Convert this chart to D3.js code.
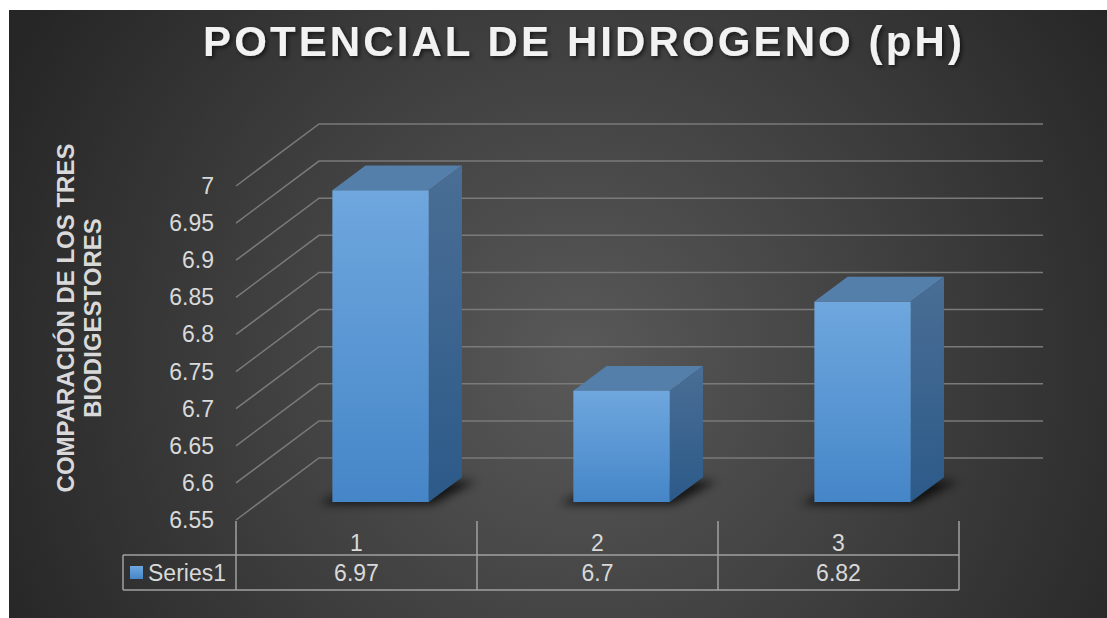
<!DOCTYPE html>
<html>
<head>
<meta charset="utf-8">
<script src="https://cdn.jsdelivr.net/npm/d3@7"></script>
<style>
  body { margin: 0; background: #fff; }
  text { font-family: "Liberation Sans", Arial, sans-serif; }
</style>
</head>
<body>
<div id="chart"></div>
<script>
// Data
const categories = ["1", "2", "3"];
const values = [6.97, 6.7, 6.82];
const yTicks = [6.55, 6.6, 6.65, 6.7, 6.75, 6.8, 6.85, 6.9, 6.95, 7];
const seriesName = "Series1";
const titleText = "POTENCIAL DE HIDROGENO (pH)";
const yTitleLines = ["COMPARACIÓN DE LOS TRES", "BIODIGESTORES"];

const W = 1107, H = 618;
// 3D depth of the plot box and of the bars
const DX = 83, DY = -62;
const barFront = 0.29, barDepth = 0.4, barWidthRatio = 0.4;

const svg = d3.select("#chart").append("svg")
  .attr("width", W)
  .attr("height", H);

const defs = svg.append("defs");

const bg = defs.append("radialGradient")
  .attr("id", "bg")
  .attr("gradientUnits", "userSpaceOnUse")
  .attr("cx", 580).attr("cy", 360).attr("r", 640);
bg.append("stop").attr("offset", "0%").attr("stop-color", "#595959");
bg.append("stop").attr("offset", "100%").attr("stop-color", "#262626");

const frontGrad = defs.append("linearGradient")
  .attr("id", "front").attr("x1", 0).attr("y1", 0).attr("x2", 0).attr("y2", 1);
frontGrad.append("stop").attr("offset", "0%").attr("stop-color", "#6fa7de");
frontGrad.append("stop").attr("offset", "100%").attr("stop-color", "#4586c8");

const sideGrad = defs.append("linearGradient")
  .attr("id", "side").attr("x1", 0).attr("y1", 0).attr("x2", 0).attr("y2", 1);
sideGrad.append("stop").attr("offset", "0%").attr("stop-color", "#4a6e95");
sideGrad.append("stop").attr("offset", "100%").attr("stop-color", "#2c5a89");

defs.append("filter").attr("id", "blur")
  .attr("x", "-50%").attr("y", "-50%").attr("width", "200%").attr("height", "200%")
  .append("feGaussianBlur").attr("stdDeviation", 5);

const ts = defs.append("filter").attr("id", "tshadow");
ts.append("feDropShadow")
  .attr("dx", 2).attr("dy", 2).attr("stdDeviation", 2)
  .attr("flood-color", "#000").attr("flood-opacity", 0.6);

// Background
svg.append("rect")
  .attr("x", 9).attr("y", 10)
  .attr("width", W - 9).attr("height", H - 10)
  .attr("fill", "url(#bg)");

// Scales
const x = d3.scaleBand().domain(categories).range([236, 959]);
const y = d3.scaleLinear().domain([6.55, 7]).range([520, 186]);
const fmt = d3.format("~g");

// Gridlines: left wall diagonal + back wall horizontal
svg.append("g").selectAll("polyline")
  .data(yTicks)
  .join("polyline")
  .attr("points", t => {
    const x0 = x.range()[0], x1 = x.range()[1];
    return [[x0, y(t)], [x0 + DX, y(t) + DY], [x1 + DX + 1, y(t) + DY]].join(" ");
  })
  .attr("fill", "none")
  .attr("stroke", "#7a7a7a")
  .attr("stroke-width", 1.5);

// Y tick labels
svg.append("g").selectAll("text")
  .data(yTicks)
  .join("text")
  .attr("x", 214)
  .attr("y", d => y(d))
  .attr("text-anchor", "end")
  .attr("dominant-baseline", "central")
  .attr("font-size", 23)
  .attr("fill", "#d9d9d9")
  .text(d => fmt(d));

// Y axis title
yTitleLines.forEach((line, i) => {
  svg.append("text")
    .attr("transform", `translate(${65 + i * 27},318) rotate(-90)`)
    .attr("text-anchor", "middle")
    .attr("dominant-baseline", "central")
    .attr("font-size", 24)
    .attr("font-weight", "bold")
    .attr("fill", "#d9d9d9")
    .text(line);
});

// Bars
const bw = x.bandwidth() * barWidthRatio;
const bars = categories.map((c, i) => {
  const x0 = x(c) + (x.bandwidth() - bw) / 2 + barFront * DX;
  const yTop = y(values[i]) + barFront * DY;
  const yBot = y(6.55) + barFront * DY;
  return { x0, x1: x0 + bw, yTop, yBot, ddx: barDepth * DX, ddy: barDepth * DY };
});

// Shadows
svg.append("g").selectAll("polygon")
  .data(bars)
  .join("polygon")
  .attr("points", b => [
    [b.x0 - 14, b.yBot + 2], [b.x1 + 4, b.yBot + 2],
    [b.x1 + b.ddx + 14, b.yBot + b.ddy + 4], [b.x0 + b.ddx, b.yBot + b.ddy + 4]
  ].join(" "))
  .attr("fill", "#000")
  .attr("opacity", 0.75)
  .attr("filter", "url(#blur)");

const barG = svg.append("g").selectAll("g")
  .data(bars)
  .join("g");

barG.append("polygon")
  .attr("points", b => [
    [b.x0, b.yTop], [b.x1, b.yTop],
    [b.x1 + b.ddx, b.yTop + b.ddy], [b.x0 + b.ddx, b.yTop + b.ddy]
  ].join(" "))
  .attr("fill", "#557fab");

barG.append("polygon")
  .attr("points", b => [
    [b.x1, b.yTop], [b.x1 + b.ddx, b.yTop + b.ddy],
    [b.x1 + b.ddx, b.yBot + b.ddy], [b.x1, b.yBot]
  ].join(" "))
  .attr("fill", "url(#side)");

barG.append("rect")
  .attr("x", b => b.x0)
  .attr("y", b => b.yTop)
  .attr("width", bw)
  .attr("height", b => b.yBot - b.yTop)
  .attr("fill", "url(#front)");

// Data table
const tableTop = 555, tableBot = 590, tickTop = 521, legendLeft = 123;
const lineColor = "#a0a0a0";
const tbl = svg.append("g")
  .attr("stroke", lineColor)
  .attr("stroke-width", 1.5);

const seps = categories.map(c => x(c)).concat([x.range()[1]]);
tbl.selectAll("line.v")
  .data(seps)
  .join("line")
  .attr("class", "v")
  .attr("x1", d => d).attr("x2", d => d)
  .attr("y1", tickTop).attr("y2", tableBot);

tbl.append("line")
  .attr("x1", legendLeft).attr("x2", legendLeft)
  .attr("y1", tableTop).attr("y2", tableBot);

[tableTop, tableBot].forEach(yy => {
  tbl.append("line")
    .attr("x1", legendLeft).attr("x2", x.range()[1])
    .attr("y1", yy).attr("y2", yy);
});

svg.append("g").selectAll("text")
  .data(categories)
  .join("text")
  .attr("x", d => x(d) + x.bandwidth() / 2)
  .attr("y", 543)
  .attr("text-anchor", "middle")
  .attr("dominant-baseline", "central")
  .attr("font-size", 23)
  .attr("fill", "#d9d9d9")
  .text(d => d);

svg.append("g").selectAll("text")
  .data(values)
  .join("text")
  .attr("x", (d, i) => x(categories[i]) + x.bandwidth() / 2)
  .attr("y", 573)
  .attr("text-anchor", "middle")
  .attr("dominant-baseline", "central")
  .attr("font-size", 23)
  .attr("fill", "#d9d9d9")
  .text(d => fmt(d));

// Legend key inside table
svg.append("rect")
  .attr("x", 130).attr("y", 566)
  .attr("width", 13).attr("height", 13)
  .attr("fill", "url(#front)");

svg.append("text")
  .attr("x", 148)
  .attr("y", 573)
  .attr("dominant-baseline", "central")
  .attr("font-size", 23)
  .attr("fill", "#d9d9d9")
  .text(seriesName);

// Title
svg.append("text")
  .attr("x", 584)
  .attr("y", 56)
  .attr("text-anchor", "middle")
  .attr("font-size", 42)
  .attr("font-weight", "bold")
  .attr("letter-spacing", 3.1)
  .attr("fill", "#f2f2f2")
  .attr("filter", "url(#tshadow)")
  .text(titleText);
</script>
</body>
</html>
